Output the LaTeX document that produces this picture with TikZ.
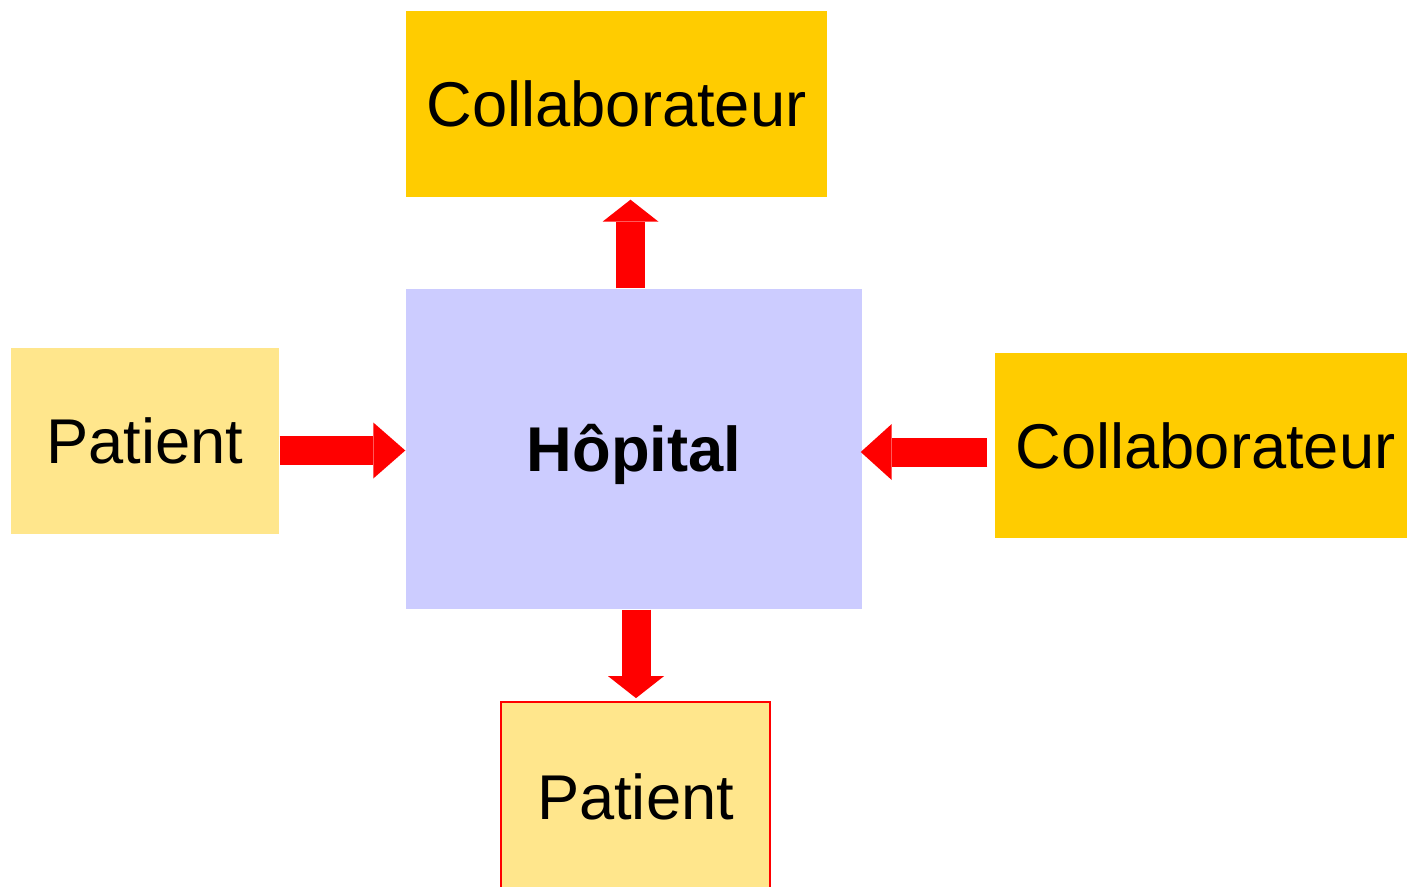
\documentclass[tikz,border=0pt]{standalone}
\usepackage{fontspec}
\setmainfont{Liberation Sans}
\usetikzlibrary{arrows.meta}

\definecolor{collab}{RGB}{255,204,0}
\definecolor{patient}{RGB}{255,230,140}
\definecolor{hopital}{RGB}{204,204,255}

\begin{document}
\begin{tikzpicture}[
    box/.style={inner sep=0pt, text height=12.9pt, text depth=0pt, font=\fontsize{18}{22}\selectfont},
    flow/.style={red, line width=0.29cm, -{Triangle[length=#1, width=0.56cm, line width=0pt]}}
  ]
    \useasboundingbox (0, 0) rectangle (14.07, 8.86);

    \node[box, fill=hopital, minimum width=4.56cm, minimum height=3.2cm, font=\fontsize{18}{22}\selectfont\bfseries] (hop) at (6.34, 4.37) {Hôpital};

    \node[box, fill=collab, minimum width=4.21cm, minimum height=1.86cm] (collabT) at (6.165, 7.82) {Collaborateur};
    \node[box, fill=collab, minimum width=4.21cm, minimum height=1.85cm] (collabR) at (12.055, 4.405) {Collaborateur};

    \node[box, fill=patient, minimum width=2.68cm, minimum height=1.86cm] (patL) at (1.45, 4.45) {Patient};
    \node[box, fill=patient, draw=red, line width=0.5pt, minimum width=2.69cm, minimum height=1.9cm] (patB) at (6.355, 0.89) {Patient};

    % Arrows
    \draw[flow=0.22cm] ([xshift=-0.035cm]hop.north) -- ([xshift=-0.035cm, yshift=-0.02cm]hop.north |- collabT.south);
    \draw[flow=0.22cm] ([xshift=0.02cm]hop.south) -- ([xshift=0.02cm, yshift=0.03cm]hop.south |- patB.north);
    \draw[flow=0.32cm] (patL.east |- 0, 4.355) -- (hop.west |- 0, 4.355);
    \draw[flow=0.31cm] ([xshift=-0.07cm]collabR.west |- 0, 4.34) -- ([xshift=-0.02cm]hop.east |- 0, 4.34);

  \end{tikzpicture}
\end{document}
